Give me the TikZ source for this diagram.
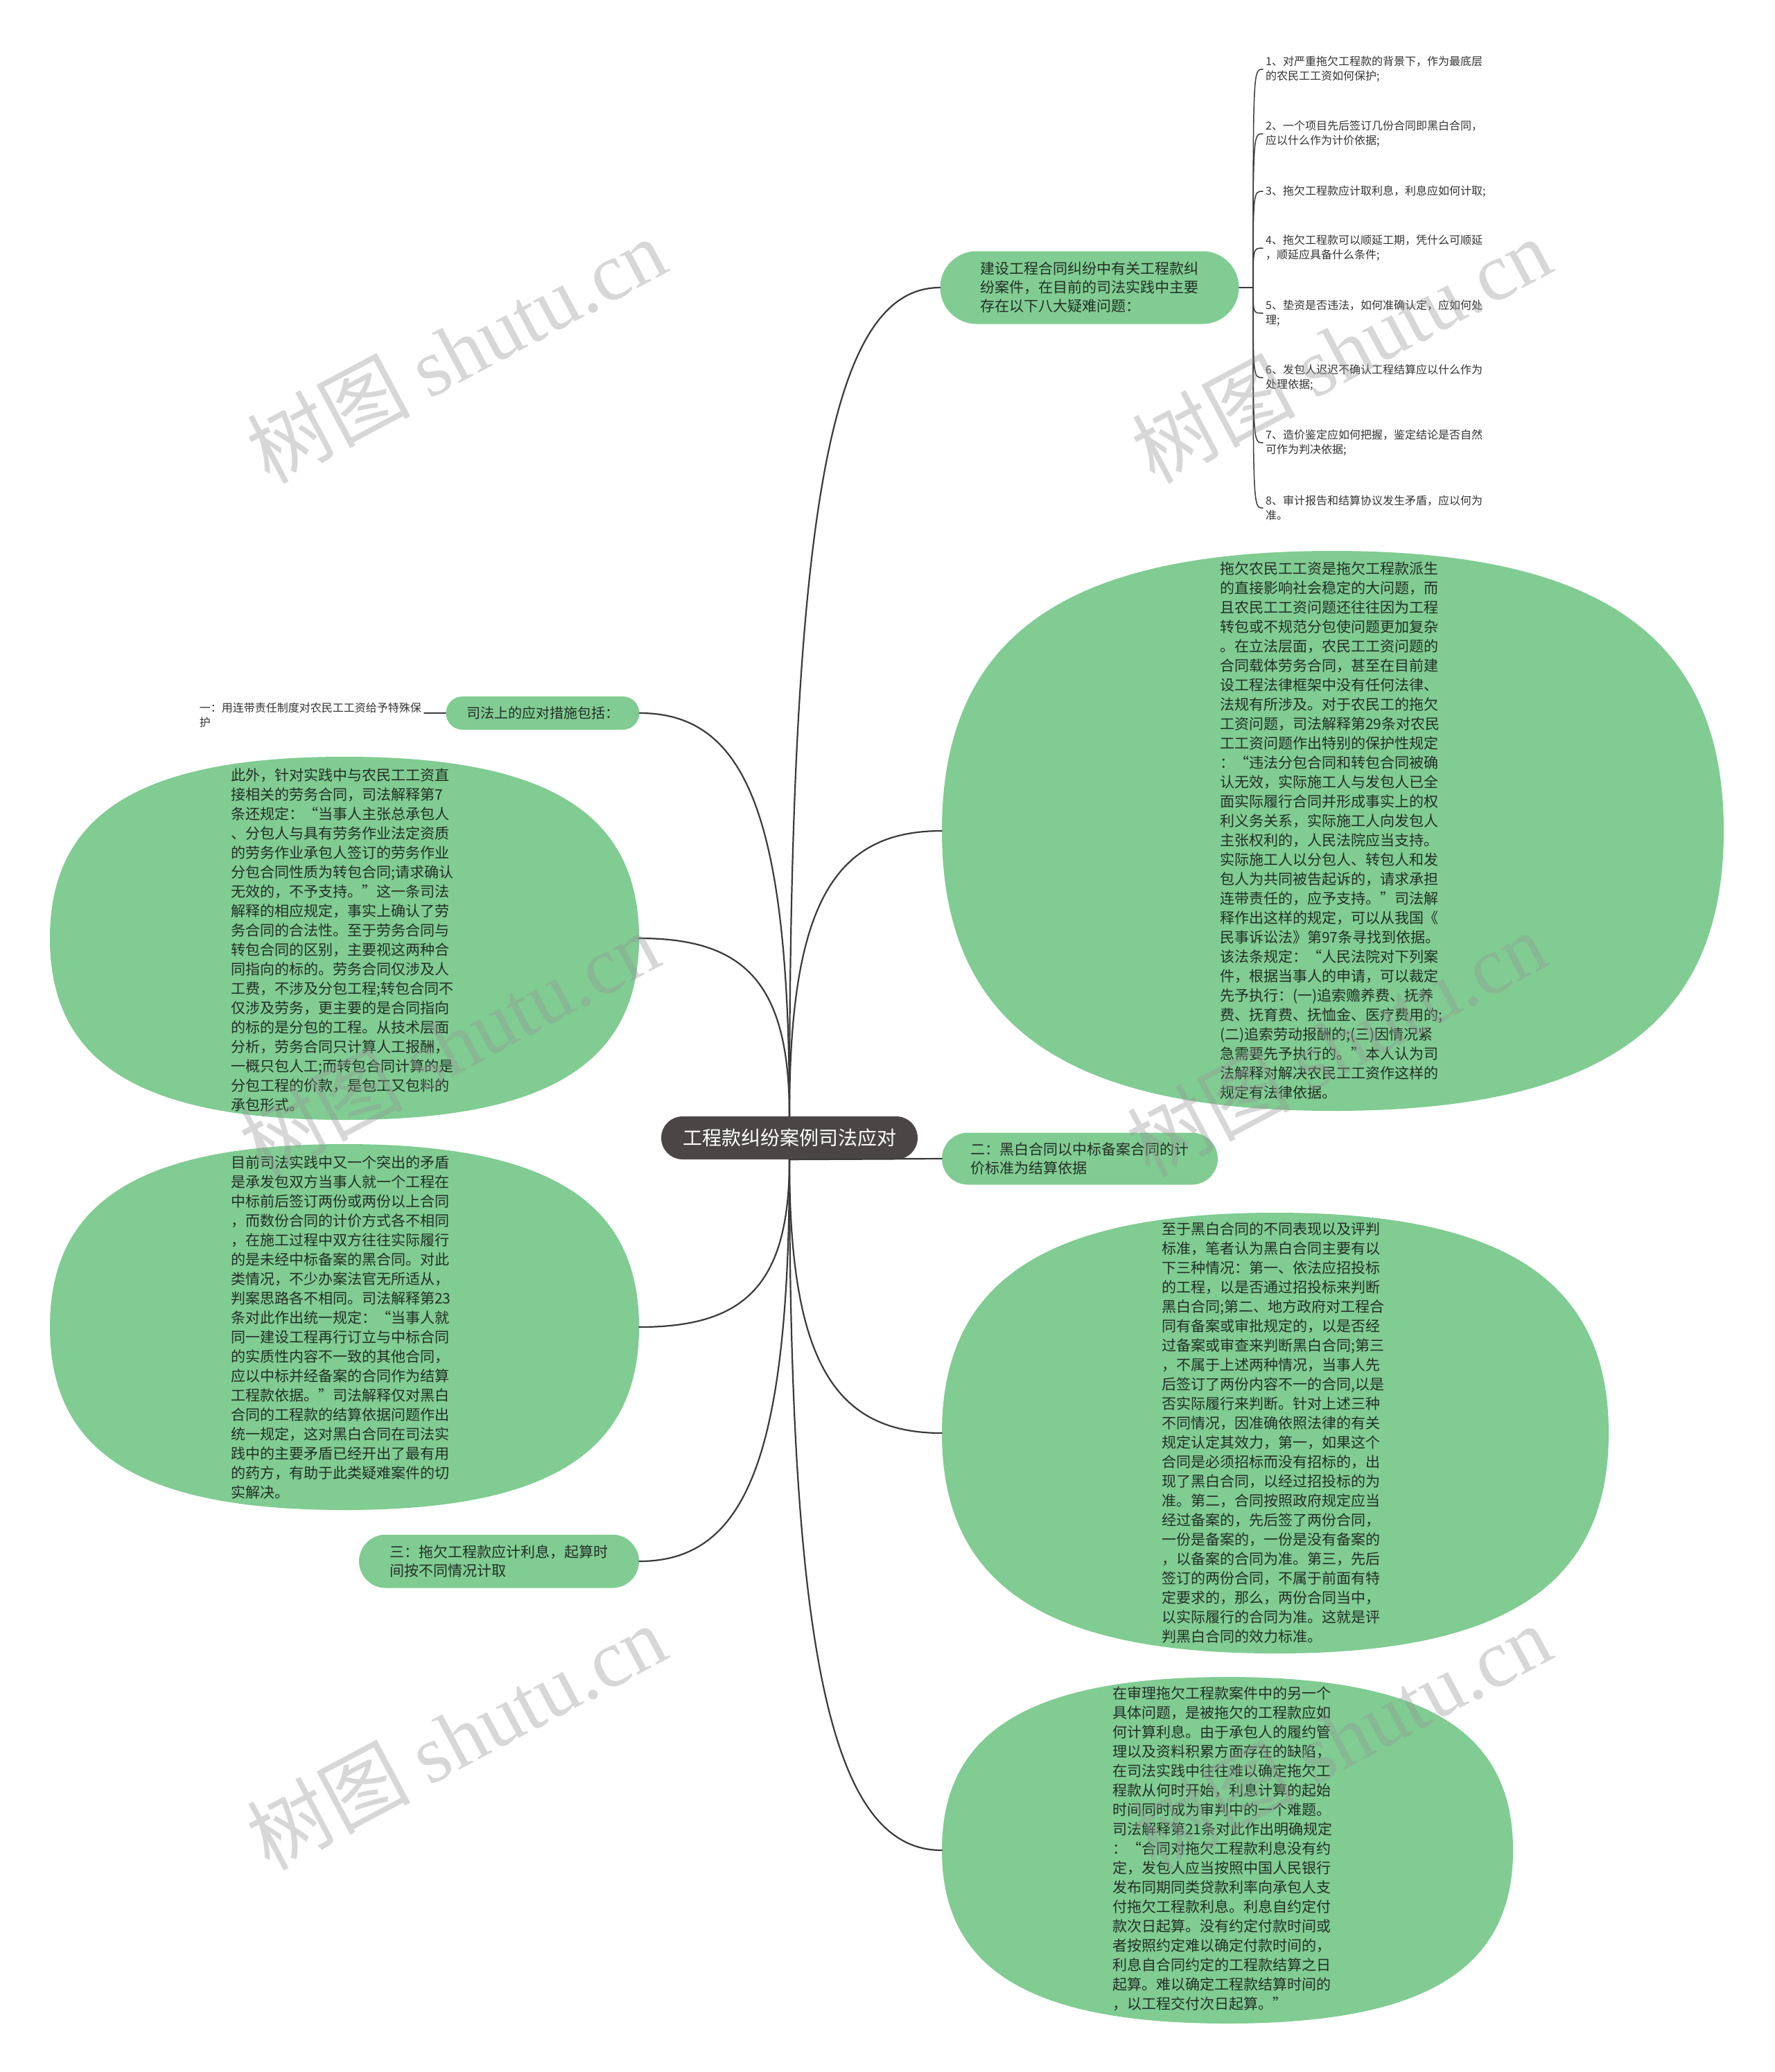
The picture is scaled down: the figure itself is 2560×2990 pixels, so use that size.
\documentclass[tikz,border=0pt]{standalone}
\usepackage{fontspec}
\setmainfont{Noto Sans CJK SC}
\newfontfamily\wmlatin{Liberation Serif}
\usetikzlibrary{shapes.misc,shapes.geometric}
\definecolor{gfill}{RGB}{128,204,146}
\definecolor{cfill}{RGB}{74,70,70}
\definecolor{txt}{RGB}{36,46,38}
\definecolor{ltxt}{RGB}{50,50,50}
\definecolor{lnc}{RGB}{58,58,58}
\definecolor{wmc}{RGB}{150,150,150}
\newcommand{\greenblob}[5]{%
  \fill[gfill] (#2+#4,#3) .. controls (#2+#4,#3+0.69*#5) and (#2+0.69*#4,#3+#5) .. (#2,#3+#5)
    .. controls (#2-0.69*#4,#3+#5) and (#2-#4,#3+0.69*#5) .. (#2-#4,#3)
    .. controls (#2-#4,#3-0.69*#5) and (#2-0.69*#4,#3-#5) .. (#2,#3-#5)
    .. controls (#2+0.69*#4,#3-#5) and (#2+#4,#3-0.69*#5) .. (#2+#4,#3) -- cycle;
  \node[blobbox, minimum width=2*#4, minimum height=2*#5] (#1) at (#2,#3) {};
}
\begin{document}
\begin{tikzpicture}[x=1pt, y=-1pt,
  blobbox/.style={ellipse, draw=none, inner sep=0pt},
  bodytext/.style={font=\fontsize{21pt}{28pt}\selectfont, text=txt, align=left, inner sep=0pt},
  pillbox/.style={rounded rectangle, fill=gfill, draw=none, inner sep=0pt, text=txt, align=left, font=\fontsize{21pt}{27pt}\selectfont},
  centerbox/.style={rounded rectangle, fill=cfill, draw=none, inner sep=0pt, text=white, font=\fontsize{28pt}{32pt}\selectfont, minimum width=370pt, minimum height=62pt},
  leaftext/.style={font=\fontsize{16pt}{21pt}\selectfont, text=ltxt, align=left, inner xsep=4pt, inner ysep=0pt},
  conn/.style={draw=lnc, line width=2.2pt, line cap=round},
  leafconn/.style={draw=lnc, line width=1.5pt, line cap=round},
  wmark/.style={font=\fontsize{118pt}{118pt}\selectfont, text=wmc, opacity=0.38, rotate=28, inner sep=0pt}
]
\useasboundingbox (0,0) rectangle (2560,2990);
\fill[white] (0,0) rectangle (2560,2990);

% green blobs
\greenblob{e1}{1923}{1199}{564}{404}
\greenblob{e3}{1840}{2068}{481}{318}
\greenblob{e4}{1771}{2670}{412}{250}
\greenblob{l1}{497}{1354}{425}{262}
\greenblob{l2}{497}{1915}{425}{264}

% central node and pills
\node[centerbox] (cn) at (1139,1642) {工程款纠纷案例司法应对};
\node[pillbox, minimum width=431pt, minimum height=105pt] (b1) at (1572,415)
  {建设工程合同纠纷中有关工程款纠\\纷案件，在目前的司法实践中主要\\存在以下八大疑难问题：};
\node[pillbox, minimum width=398pt, minimum height=75pt] (two) at (1558,1672)
  {二：黑白合同以中标备案合同的计\\价标准为结算依据};
\node[pillbox, minimum width=404pt, minimum height=77pt] (san) at (720,2253)
  {三：拖欠工程款应计利息，起算时\\间按不同情况计取};
\node[pillbox, minimum width=279pt, minimum height=48pt, font=\fontsize{20pt}{24pt}\selectfont] (sj) at (783,1029)
  {司法上的应对措施包括：};

% blob texts
\node[bodytext, anchor=west] (e1t) at (1760,1198) {拖欠农民工工资是拖欠工程款派生\\的直接影响社会稳定的大问题，而\\且农民工工资问题还往往因为工程\\转包或不规范分包使问题更加复杂\\。在立法层面，农民工工资问题的\\合同载体劳务合同，甚至在目前建\\设工程法律框架中没有任何法律、\\法规有所涉及。对于农民工的拖欠\\工资问题，司法解释第29条对农民\\工工资问题作出特别的保护性规定\\：“违法分包合同和转包合同被确\\认无效，实际施工人与发包人已全\\面实际履行合同并形成事实上的权\\利义务关系，实际施工人向发包人\\主张权利的，人民法院应当支持。\\实际施工人以分包人、转包人和发\\包人为共同被告起诉的，请求承担\\连带责任的，应予支持。”司法解\\释作出这样的规定，可以从我国《\\民事诉讼法》第97条寻找到依据。\\该法条规定：“人民法院对下列案\\件，根据当事人的申请，可以裁定\\先予执行：(一)追索赡养费、抚养\\费、抚育费、抚恤金、医疗费用的;\\(二)追索劳动报酬的;(三)因情况紧\\急需要先予执行的。”本人认为司\\法解释对解决农民工工资作这样的\\规定有法律依据。};

\node[bodytext, anchor=west] (e3t) at (1676,2068) {至于黑白合同的不同表现以及评判\\标准，笔者认为黑白合同主要有以\\下三种情况：第一、依法应招投标\\的工程，以是否通过招投标来判断\\黑白合同;第二、地方政府对工程合\\同有备案或审批规定的，以是否经\\过备案或审查来判断黑白合同;第三\\，不属于上述两种情况，当事人先\\后签订了两份内容不一的合同,以是\\否实际履行来判断。针对上述三种\\不同情况，因准确依照法律的有关\\规定认定其效力，第一，如果这个\\合同是必须招标而没有招标的，出\\现了黑白合同，以经过招投标的为\\准。第二，合同按照政府规定应当\\经过备案的，先后签了两份合同，\\一份是备案的，一份是没有备案的\\，以备案的合同为准。第三，先后\\签订的两份合同，不属于前面有特\\定要求的，那么，两份合同当中，\\以实际履行的合同为准。这就是评\\判黑白合同的效力标准。};

\node[bodytext, anchor=west] (e4t) at (1605,2668) {在审理拖欠工程款案件中的另一个\\具体问题，是被拖欠的工程款应如\\何计算利息。由于承包人的履约管\\理以及资料积累方面存在的缺陷，\\在司法实践中往往难以确定拖欠工\\程款从何时开始，利息计算的起始\\时间同时成为审判中的一个难题。\\司法解释第21条对此作出明确规定\\：“合同对拖欠工程款利息没有约\\定，发包人应当按照中国人民银行\\发布同期同类贷款利率向承包人支\\付拖欠工程款利息。利息自约定付\\款次日起算。没有约定付款时间或\\者按照约定难以确定付款时间的，\\利息自合同约定的工程款结算之日\\起算。难以确定工程款结算时间的\\，以工程交付次日起算。”};

\node[bodytext, anchor=west] (l1t) at (333,1356) {此外，针对实践中与农民工工资直\\接相关的劳务合同，司法解释第7\\条还规定：“当事人主张总承包人\\、分包人与具有劳务作业法定资质\\的劳务作业承包人签订的劳务作业\\分包合同性质为转包合同;请求确认\\无效的，不予支持。”这一条司法\\解释的相应规定，事实上确认了劳\\务合同的合法性。至于劳务合同与\\转包合同的区别，主要视这两种合\\同指向的标的。劳务合同仅涉及人\\工费，不涉及分包工程;转包合同不\\仅涉及劳务，更主要的是合同指向\\的标的是分包的工程。从技术层面\\分析，劳务合同只计算人工报酬，\\一概只包人工;而转包合同计算的是\\分包工程的价款，是包工又包料的\\承包形式。};

\node[bodytext, anchor=west] (l2t) at (333,1915) {目前司法实践中又一个突出的矛盾\\是承发包双方当事人就一个工程在\\中标前后签订两份或两份以上合同\\，而数份合同的计价方式各不相同\\，在施工过程中双方往往实际履行\\的是未经中标备案的黑合同。对此\\类情况，不少办案法官无所适从，\\判案思路各不相同。司法解释第23\\条对此作出统一规定：“当事人就\\同一建设工程再行订立与中标合同\\的实质性内容不一致的其他合同，\\应以中标并经备案的合同作为结算\\工程款依据。”司法解释仅对黑白\\合同的工程款的结算依据问题作出\\统一规定，这对黑白合同在司法实\\践中的主要矛盾已经开出了最有用\\的药方，有助于此类疑难案件的切\\实解决。};

% leaf items
\node[leaftext, anchor=west] (q1) at (1822,100) {1、对严重拖欠工程款的背景下，作为最底层\\的农民工工资如何保护;};
\node[leaftext, anchor=west] (q2) at (1822,193) {2、一个项目先后签订几份合同即黑白合同，\\应以什么作为计价依据;};
\node[leaftext, anchor=west] (q3) at (1822,276) {3、拖欠工程款应计取利息，利息应如何计取;};
\node[leaftext, anchor=west] (q4) at (1822,358) {4、拖欠工程款可以顺延工期，凭什么可顺延\\，顺延应具备什么条件;};
\node[leaftext, anchor=west] (q5) at (1822,452) {5、垫资是否违法，如何准确认定，应如何处\\理;};
\node[leaftext, anchor=west] (q6) at (1822,545) {6、发包人迟迟不确认工程结算应以什么作为\\处理依据;};
\node[leaftext, anchor=west] (q7) at (1822,639) {7、造价鉴定应如何把握，鉴定结论是否自然\\可作为判决依据;};
\node[leaftext, anchor=west] (q8) at (1822,733) {8、审计报告和结算协议发生矛盾，应以何为\\准。};
\node[leaftext, anchor=east] (lf) at (612,1032) {一：用连带责任制度对农民工工资给予特殊保\\护};

% main connectors
\draw[conn] (cn.north) .. controls +(0,-897) and +(-153,0) .. (b1.west);
\draw[conn] (cn.north) .. controls +(0,-309) and +(-154,0) .. (e1.west);
\draw[conn] (cn.south) -- (two.west);
\draw[conn] (cn.south) .. controls +(0,293) and +(-154,0) .. (e3.west);
\draw[conn] (cn.south) .. controls +(0,737) and +(-154,0) .. (e4.west);
\draw[conn] (cn.north) .. controls +(0,-437) and +(152,0) .. (sj.east);
\draw[conn] (cn.north) .. controls +(0,-193) and +(152,0) .. (l1.east);
\draw[conn] (cn.south) .. controls +(0,182) and +(152,0) .. (l2.east);
\draw[conn] (cn.south) .. controls +(0,435) and +(152,0) .. (san.east);

% leaf connectors
\coordinate (bt) at (1808,415);
\draw[leafconn] (b1.east) -- (bt);
\foreach \i in {1,...,8} {\draw[leafconn] (bt) .. controls (bt |- q\i.west) .. (q\i.west);}
\draw[leafconn] (sj.west) -- (sj.west -| lf.east);

% watermarks
\node[wmark] (w1) at (658,505) {树图 {\wmlatin shutu.cn}};
\node[wmark] (w2) at (1935,505) {树图 {\wmlatin shutu.cn}};
\node[wmark] (w3) at (648,1506) {树图 {\wmlatin shutu.cn}};
\node[wmark] (w4) at (1928,1506) {树图 {\wmlatin shutu.cn}};
\node[wmark] (w5) at (658,2506) {树图 {\wmlatin shutu.cn}};
\node[wmark] (w6) at (1935,2506) {树图 {\wmlatin shutu.cn}};
\end{tikzpicture}
\end{document}
